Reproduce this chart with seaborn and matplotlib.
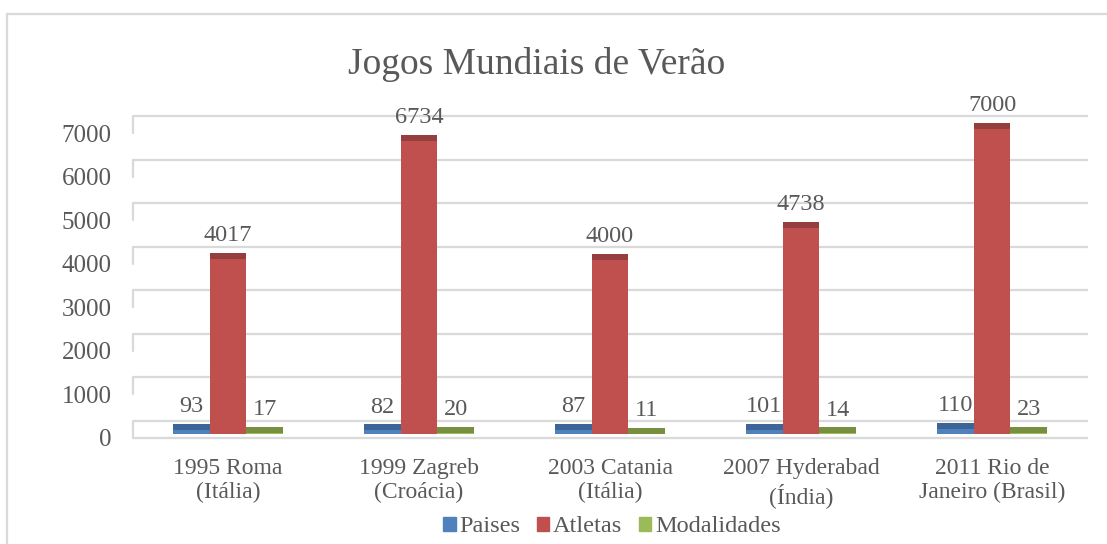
import matplotlib
matplotlib.use("Agg")
import matplotlib.pyplot as plt
from matplotlib.lines import Line2D
from matplotlib.patches import Patch
import matplotlib.transforms as mtransforms
import seaborn as sns
import pandas as pd

# ---------------- data ----------------
categories = ["1995 Roma\n(Itália)", "1999 Zagreb\n(Croácia)", "2003 Catania\n(Itália)",
              "2007 Hyderabad\n(Índia)", "2011 Rio de\nJaneiro (Brasil)"]
series_names = ["Paises", "Atletas", "Modalidades"]
paises = [93, 82, 87, 101, 110]
atletas = [4017, 6734, 4000, 4738, 7000]
modalidades = [17, 20, 11, 14, 23]
y_ticks = [0, 1000, 2000, 3000, 4000, 5000, 6000, 7000]

colors = ["#4F81BD", "#C0504D", "#9BBB59"]
cap_colors = ["#3C6496", "#943F3D", "#77903F"]
text_color = "#595959"
grid_color = "#D9D9D9"

df = pd.DataFrame({
    "categoria": categories * 3,
    "serie": [s for s in series_names for _ in categories],
    "valor": paises + atletas + modalidades,
})

# ---------------- figure ----------------
sns.set_theme(style="white")
plt.rcParams['font.family'] = ['Liberation Serif', 'DejaVu Serif']

W, H = 1107, 544
fig = plt.figure(figsize=(W / 100, H / 100), dpi=100)
fig.patch.set_facecolor("white")

ymax = 7300
ax_h_px = 318
ax = fig.add_axes([132.5 / W, (H - 434) / H, 955 / W, ax_h_px / H])
ax.set_facecolor("none")

sns.barplot(data=df, x="categoria", y="valor", hue="serie", hue_order=series_names,
            palette=colors, width=0.58, saturation=1, ax=ax, legend=False,
            linewidth=0, zorder=2)
ax.set_ylim(0, ymax)
ax.set_xlim(-0.5, len(categories) - 0.5)

upp = ymax / ax_h_px  # data units per pixel
cap = 6 * upp

# 3D-like top faces and value labels
for i, cont in enumerate(list(ax.containers)[:3]):
    for p in cont.patches:
        x = p.get_x() + p.get_width() / 2
        h = p.get_height()
        ax.bar(x, cap, bottom=h, width=p.get_width(), color=cap_colors[i],
               linewidth=0, zorder=2)
        ax.annotate(f"{int(round(h))}", (x, h + cap), xytext=(0, 12.5),
                    textcoords="offset points", ha="center", va="center",
                    fontsize=17.5, color=text_color)

# back-wall gridlines (offset up like a 3D wall)
blend = mtransforms.blended_transform_factory(ax.transAxes, ax.transData)
for t in y_ticks:
    yg = t + 13 * upp
    ax.plot([0, 1], [yg, yg], transform=blend, color=grid_color, lw=1.6,
            clip_on=False, zorder=0.5, solid_capstyle="butt")
    ax.plot([0, 0], [yg, t - 4 * upp], transform=blend, color=grid_color, lw=1.6,
            clip_on=False, zorder=0.5)
# front floor edge
ax.plot([0, 1], [-4 * upp, -4 * upp], transform=blend, color=grid_color, lw=1.6,
        clip_on=False, zorder=0.5, solid_capstyle="butt")

ax.set_yticks(y_ticks)
ax.tick_params(axis="y", length=0, pad=15, labelsize=18, labelcolor=text_color)
ax.tick_params(axis="x", length=0, pad=17, labelsize=17, labelcolor=text_color)
shift = mtransforms.ScaledTranslation(0, -4 / 100, fig.dpi_scale_trans)
for lbl in ax.get_yticklabels():
    lbl.set_transform(lbl.get_transform() + shift)
for lbl in ax.get_xticklabels():
    lbl.set_linespacing(1.22)
for s in ax.spines.values():
    s.set_visible(False)
ax.set_xlabel("")
ax.set_ylabel("")
ax.grid(False)

# title
fig.text(537 / W, 1 - 64 / H, "Jogos Mundiais de Verão", ha="center", va="center",
         fontsize=27, color=text_color)

# legend
handles = [Patch(color=c, label=n) for c, n in zip(colors, series_names)]
fig.legend(handles=handles, loc="center", bbox_to_anchor=(612 / W, 1 - 527 / H),
           ncol=3, frameon=False, fontsize=17.5, handlelength=0.5, handleheight=0.5,
           handletextpad=0.15, columnspacing=0.7, labelcolor=text_color,
           borderaxespad=0, borderpad=0)

# chart border (partial, as cropped)
fig.add_artist(Line2D([7 / W, 7 / W], [0, 1 - 14 / H], transform=fig.transFigure,
                      color=grid_color, lw=1.6))
fig.add_artist(Line2D([7 / W, 1], [1 - 14 / H, 1 - 14 / H], transform=fig.transFigure,
                      color=grid_color, lw=1.6))

fig.savefig("out.png", dpi=100)
